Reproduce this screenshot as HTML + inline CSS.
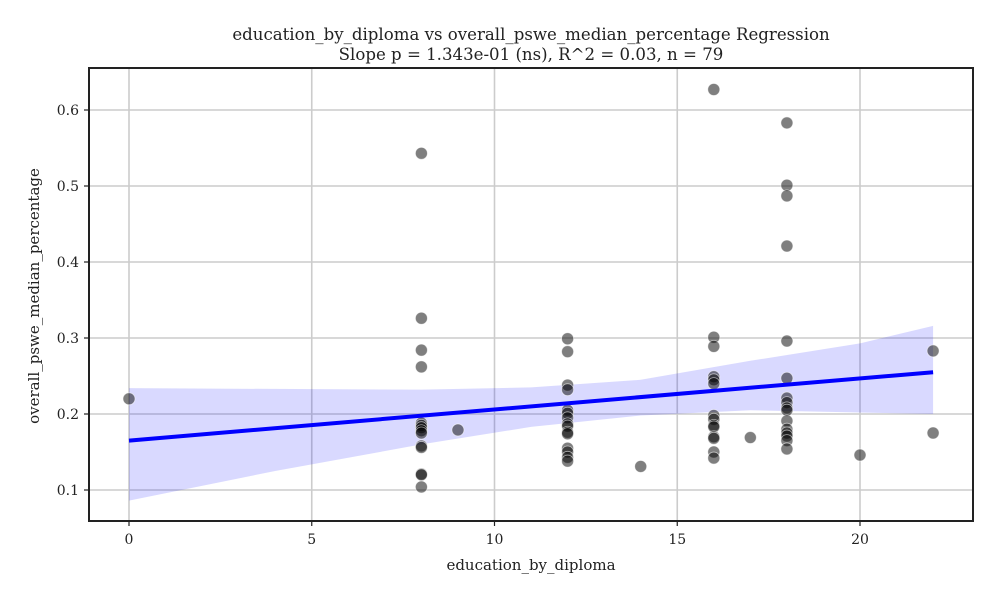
<!DOCTYPE html>
<html><head><meta charset="utf-8"><style>
body{margin:0;background:#fff;}
svg text{font-family:"DejaVu Serif","Liberation Serif",serif;fill:#222;}
</style></head><body>
<svg id="chart" width="1000" height="600">
<text x="531" y="40" text-anchor="middle" font-size="16.6">education_by_diploma vs overall_pswe_median_percentage Regression</text>
<text x="531" y="60" text-anchor="middle" font-size="16.6">Slope p = 1.343e-01 (ns), R^2 = 0.03, n = 79</text>
<g id="grid"></g><g id="band"></g><g id="pts"></g><g id="line"></g><g id="axes"></g>
<text x="531" y="570" text-anchor="middle" font-size="15">education_by_diploma</text>
<text transform="translate(39,296) rotate(-90)" text-anchor="middle" font-size="15">overall_pswe_median_percentage</text>
</svg>
<script>
const xTicks=[0,5,10,15,20];
const yTicks=[0.1,0.2,0.3,0.4,0.5,0.6];
const ptX=[0,8,8,8,8,8,8,8,8,8,8,8,8,8,8,9,12,12,12,12,12,12,12,12,12,12,12,12,12,12,12,14,16,16,16,16,16,16,16,16,16,16,16,16,16,16,17,18,18,18,18,18,18,18,18,18,18,18,18,18,18,18,18,20,22,22];
const ptY=[0.22,0.543,0.326,0.284,0.262,0.188,0.185,0.182,0.178,0.175,0.158,0.156,0.121,0.120,0.104,0.179,0.299,0.282,0.238,0.232,0.205,0.201,0.195,0.187,0.184,0.176,0.174,0.155,0.150,0.143,0.138,0.131,0.627,0.301,0.289,0.249,0.245,0.240,0.198,0.193,0.185,0.183,0.170,0.168,0.150,0.142,0.169,0.583,0.501,0.487,0.421,0.296,0.247,0.221,0.215,0.208,0.205,0.191,0.180,0.175,0.171,0.165,0.154,0.146,0.283,0.175];
const fitX=[0,22];
const fitY=[0.165,0.255];
const bandX=[0,4,8,11,14,17,20,22];
const bandUpper=[0.234,0.233,0.232,0.235,0.245,0.270,0.293,0.316];
const bandLower=[0.086,0.125,0.160,0.183,0.198,0.205,0.202,0.200];
const L=89,R=973,T=68,B=521;
const sx=v=>129+v*36.55;
const sy=v=>490-(v-0.1)*760;
const NS="http://www.w3.org/2000/svg";
function mk(t,a,p){const e=document.createElementNS(NS,t);for(const k in a)e.setAttribute(k,a[k]);document.getElementById(p).appendChild(e);return e;}
xTicks.forEach(v=>{
 const g=mk('line',{x1:sx(v),x2:sx(v),y1:T,y2:B,stroke:'#ccc','stroke-width':1.6},'grid');
 
 
 mk('line',{x1:sx(v),x2:sx(v),y1:B,y2:B+5,stroke:'#222','stroke-width':1.2},'axes');
 const t=mk('text',{x:sx(v),y:B+23,'text-anchor':'middle','font-size':14},'axes');t.textContent=v;
 
 
});
yTicks.forEach(v=>{
 const g=mk('line',{x1:L,x2:R,y1:sy(v),y2:sy(v),stroke:'#ccc','stroke-width':1.6},'grid');
 
 
 mk('line',{x1:L-5,x2:L,y1:sy(v),y2:sy(v),stroke:'#222','stroke-width':1.2},'axes');
 const t=mk('text',{x:L-10,y:sy(v)+5,'text-anchor':'end','font-size':14},'axes');t.textContent=v.toFixed(1);
 
 
});
let d='M'+bandX.map((x,i)=>sx(x)+','+sy(bandUpper[i])).join('L');
for(let i=bandX.length-1;i>=0;i--)d+='L'+sx(bandX[i])+','+sy(bandLower[i]);
const band=mk('path',{d:d+'Z',fill:'rgba(0,0,255,0.15)'},'band');


ptX.forEach((x,i)=>{
 const c=mk('circle',{cx:sx(x),cy:sy(ptY[i]),r:6,fill:'rgba(0,0,0,0.5)',stroke:'rgba(255,255,255,0.6)','stroke-width':0.8},'pts');
 
 
});
const ln=mk('line',{x1:sx(fitX[0]),y1:sy(fitY[0]),x2:sx(fitX[1]),y2:sy(fitY[1]),stroke:'#0000ff','stroke-width':4},'line');


const fr=mk('rect',{x:L,y:T,width:R-L,height:B-T,fill:'none',stroke:'#222','stroke-width':2},'axes');


</script>
</body></html>
